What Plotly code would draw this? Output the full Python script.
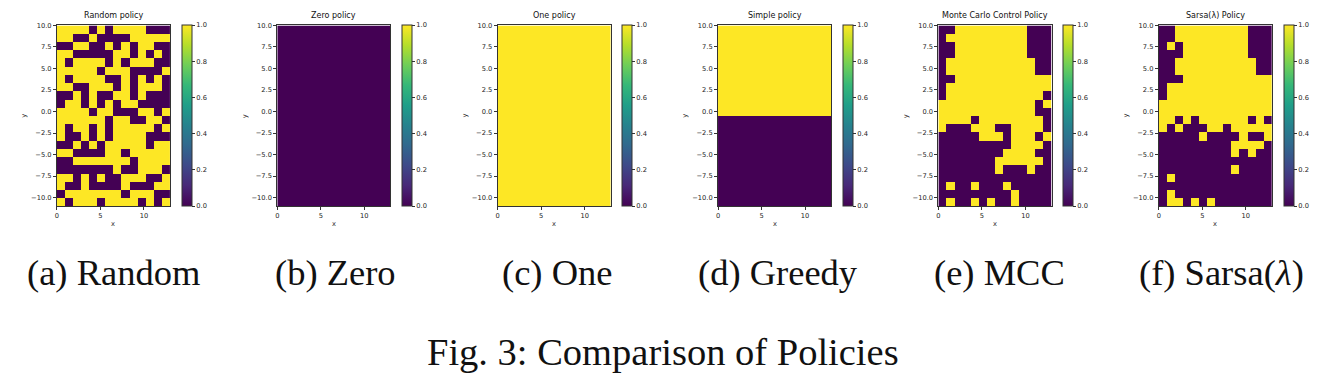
import numpy as np
import plotly.graph_objects as go

# ---------------- data ----------------
X_RANGE = [0, 13]
Y_RANGE = [-11, 10]
N_COLS = 14
N_ROWS = 22

panel_titles = ["Random policy", "Zero policy", "One policy", "Simple policy",
                "Monte Carlo Control Policy", "Sarsa(λ) Policy"]
captions = ["(a) Random", "(b) Zero", "(c) One", "(d) Greedy", "(e) MCC",
            "(f) Sarsa(<i>λ</i>)"]
figure_caption = "Fig. 3: Comparison of Policies"

# rows listed from top (y = 10) to bottom (y = -11); 1 = yellow, 0 = purple
random_policy = [
    "11110101111000",
    "11001000011111",
    "00110010101100",
    "11000001101010",
    "10111101011100",
    "11111011100001",
    "10111100101010",
    "11001110101110",
    "00101001101000",
    "01101010110000",
    "11110110001101",
    "11111101100110",
    "10110101111101",
    "10010101111000",
    "00101011111011",
    "11000011011111",
    "00111111101111",
    "00000001001110",
    "11010100111001",
    "10010000100011",
    "01111111011100",
    "10111011110101",
]
zero_policy = ["00000000000000"] * 22
one_policy = ["11111111111111"] * 22
simple_policy = ["11111111111111"] * 11 + ["00000000000000"] * 11
mcc_policy = [
    "00111111111000",
    "01111111111000",
    "00111111111000",
    "00111111111000",
    "01111111111100",
    "01111111111100",
    "00111111111111",
    "01111111111111",
    "01111111111110",
    "11111111111101",
    "11111111111100",
    "11110111111110",
    "10001110011110",
    "00000111011101",
    "00000000011110",
    "00000000111100",
    "00000001111110",
    "00000001000100",
    "00000000000000",
    "01001000100000",
    "00000000010000",
    "01001010010000",
]
sarsa_policy = [
    "00111111111000",
    "00111111111000",
    "01011111111000",
    "00011111111000",
    "00111111111100",
    "00111111111100",
    "00011111111111",
    "01111111111111",
    "01111111111111",
    "11111111111111",
    "11111111111111",
    "11010111111010",
    "10100011011111",
    "00000100001001",
    "00000000011110",
    "00000000010100",
    "00000000000000",
    "00000000010000",
    "01000000000000",
    "00000000000000",
    "01000000000000",
    "01101010000000",
]
policies = [random_policy, zero_policy, one_policy, simple_policy, mcc_policy, sarsa_policy]

# ---------------- layout helpers ----------------
W, H = 1328, 377
PANEL_STEP = 220.7
PLOT_LEFT0 = 55.0
PLOT_W = 113.3
PLOT_TOP = 21.7
PLOT_BOT = 204.3
CB_OFFSET = 125.0
CAPTION_X0 = 112.0
CAPTION_STEP = 221.8


def px(x):
    return x / W


def py(y):
    return 1 - y / H


def to_grid(rows):
    return np.array([[int(c) for c in r] for r in rows])[::-1]


dx = (X_RANGE[1] - X_RANGE[0]) / N_COLS
dy = (Y_RANGE[1] - Y_RANGE[0]) / N_ROWS

tick_font = dict(family="DejaVu Sans", size=6.7, color="#222")
y_ticks = [-10, -7.5, -5, -2.5, 0, 2.5, 5, 7.5, 10]
y_ticktext = [("−" if v < 0 else "") + f"{abs(v):.1f}" for v in y_ticks]
cb_ticks = [0, 0.2, 0.4, 0.6, 0.8, 1.0]

fig = go.Figure()
annotations = []
layout = {}

for k, (grid_rows, title) in enumerate(zip(policies, panel_titles)):
    sfx = "" if k == 0 else str(k + 1)
    left = PLOT_LEFT0 + PANEL_STEP * k
    right = left + PLOT_W
    cb_left = left + CB_OFFSET
    fig.add_trace(go.Heatmap(
        z=to_grid(grid_rows),
        x0=X_RANGE[0] + dx / 2, dx=dx,
        y0=Y_RANGE[0] + dy / 2, dy=dy,
        zmin=0, zmax=1, colorscale="Viridis",
        xaxis="x" + sfx, yaxis="y" + sfx,
        hoverinfo="skip",
        colorbar=dict(
            x=px(cb_left), xanchor="left", xref="paper",
            y=py(PLOT_BOT), yanchor="bottom", yref="paper",
            len=(PLOT_BOT - PLOT_TOP) / H, lenmode="fraction",
            thickness=10, thicknessmode="pixels",
            xpad=0, ypad=0,
            outlinewidth=1, outlinecolor="#333",
            tickvals=cb_ticks, ticktext=[f"{v:.1f}" for v in cb_ticks],
            ticks="outside", ticklen=3, tickcolor="#333",
            tickfont=tick_font,
        ),
    ))
    layout["xaxis" + sfx] = dict(
        domain=[px(left), px(right)], anchor="y" + sfx, range=X_RANGE,
        tickvals=[0, 5, 10], ticktext=["0", "5", "10"],
        ticks="outside", ticklen=3, tickcolor="#333", tickfont=tick_font,
        showline=True, mirror=True, linecolor="#333", linewidth=1,
        showgrid=False, zeroline=False, fixedrange=True,
    )
    layout["yaxis" + sfx] = dict(
        domain=[py(PLOT_BOT), py(PLOT_TOP)], anchor="x" + sfx, range=Y_RANGE,
        tickvals=y_ticks, ticktext=y_ticktext,
        ticks="outside", ticklen=3, tickcolor="#333", tickfont=tick_font,
        showline=True, mirror=True, linecolor="#333", linewidth=1,
        showgrid=False, zeroline=False, fixedrange=True,
    )
    cx = (left + right) / 2
    annotations.append(dict(text=title, x=px(cx), y=py(11.5), xref="paper", yref="paper",
                            showarrow=False, xanchor="center", yanchor="middle",
                            font=dict(family="DejaVu Sans", size=8, color="#111")))
    annotations.append(dict(text="x", x=px(cx), y=py(222), xref="paper", yref="paper",
                            showarrow=False, xanchor="center", yanchor="middle",
                            font=dict(family="DejaVu Sans", size=6.7, color="#222")))
    annotations.append(dict(text="y", x=px(left - 33), y=py((PLOT_TOP + PLOT_BOT) / 2),
                            xref="paper", yref="paper", textangle=-90,
                            showarrow=False, xanchor="center", yanchor="middle",
                            font=dict(family="DejaVu Sans", size=6.7, color="#222")))
    annotations.append(dict(text=captions[k], x=px(CAPTION_X0 + CAPTION_STEP * k), y=py(271),
                            xref="paper", yref="paper", showarrow=False,
                            xanchor="center", yanchor="middle",
                            font=dict(family="Liberation Serif", size=36.5, color="#111")))

annotations.append(dict(text=figure_caption, x=px(662), y=py(352), xref="paper", yref="paper",
                        showarrow=False, xanchor="center", yanchor="middle",
                        font=dict(family="Liberation Serif", size=38.5, color="#111")))

fig.update_layout(
    width=W, height=H,
    margin=dict(l=0, r=0, t=0, b=0),
    paper_bgcolor="white", plot_bgcolor="white",
    showlegend=False,
    annotations=annotations,
    **layout,
)

fig.write_html(
    "out.html",
    config={"displayModeBar": False},
    post_script="document.body.style.margin='0';document.body.style.padding='0';",
)
